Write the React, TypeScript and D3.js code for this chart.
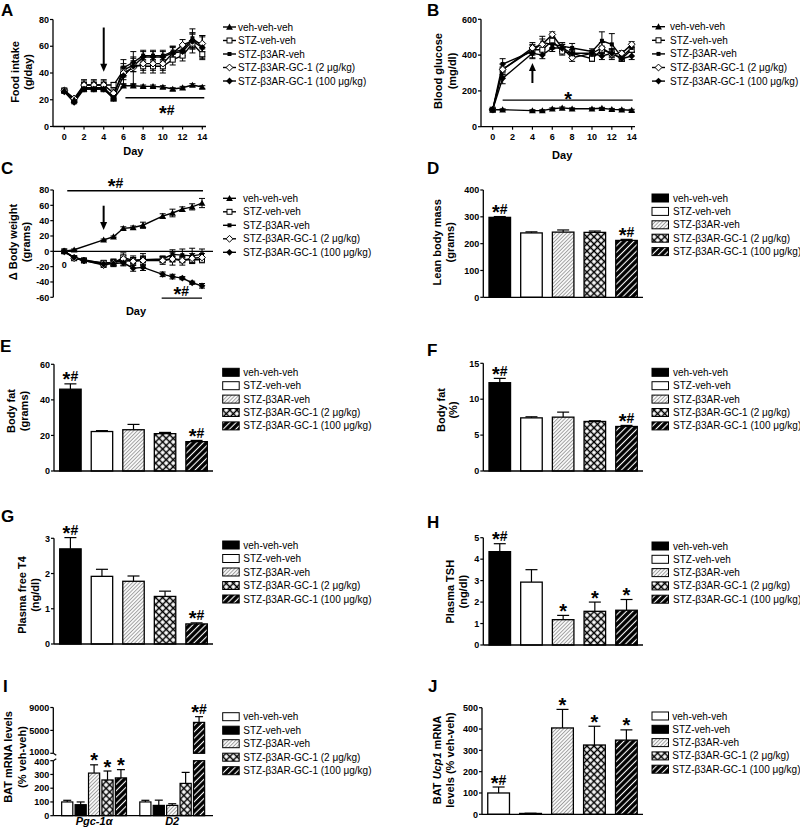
import * as d3 from "d3";
import React from "react";

const FONT = "'Liberation Sans', Arial, Helvetica, sans-serif";

const groupNames = [
  "veh-veh-veh",
  "STZ-veh-veh",
  "STZ-β3AR-veh",
  "STZ-β3AR-GC-1 (2 μg/kg)",
  "STZ-β3AR-GC-1 (100 μg/kg)",
];
const markerKinds = ["tri", "sqOpen", "sqFill", "diaOpen", "diaFill"];

// A - food intake (g/day)
const foodDays = [0, 1, 2, 3, 4, 5, 6, 7, 8, 9, 10, 11, 12, 13, 14];
const foodVeh = [27, 20, 28, 28, 28, 21, 30.5, 30.5, 30, 30, 29.5, 28, 29, 31, 29.5];
const foodStzVeh = [27, 20, 31, 31, 31, 31, 42, 46, 45, 45, 45, 50, 53, 62, 54];
const foodB3 = [26, 20, 29, 29, 29, 22, 44, 48, 53, 53, 53, 56, 57, 66, 60];
const foodGc2 = [27, 21, 31, 31, 31, 25, 40, 44, 47, 47, 47, 55, 61, 64, 62];
const foodGc100 = [26, 18, 28, 28, 28, 21, 38, 45, 52, 52, 52, 55, 56, 64, 59];
const foodVehErr = [1, 1, 1, 1, 1, 1, 1, 1, 1, 1, 1, 1, 1, 1, 1];
const foodStzVehErr = [1, 1, 4, 4, 4, 2, 5, 5, 5, 5, 5, 4, 4, 7, 4];
const foodB3Err = [1, 1, 2, 2, 2, 2, 6, 4, 4, 4, 4, 4, 4, 7, 8];
const foodGc2Err = [1, 1, 3, 3, 3, 3, 5, 12, 5, 5, 5, 5, 4, 6, 6];
const foodGc100Err = [1, 1, 2, 2, 2, 2, 6, 4, 4, 4, 4, 4, 4, 6, 8];

// B - blood glucose (mg/dl)
const glucoseDays = [0, 1, 4, 5, 6, 7, 8, 10, 11, 12, 13, 14];
const glucoseVeh = [95, 95, 90, 90, 100, 105, 100, 100, 103, 97, 95, 92];
const glucoseStzVeh = [95, 320, 430, 430, 480, 420, 410, 380, 430, 410, 380, 430];
const glucoseB3 = [95, 350, 420, 470, 460, 450, 440, 420, 480, 460, 390, 440];
const glucoseGc2 = [95, 320, 440, 460, 515, 440, 385, 410, 440, 405, 410, 460];
const glucoseGc100 = [95, 270, 410, 400, 440, 440, 410, 410, 395, 410, 380, 395];
const glucoseVehErr = [5, 5, 5, 5, 5, 5, 5, 5, 5, 5, 5, 5];
const glucoseStzVehErr = [5, 30, 30, 25, 20, 20, 20, 15, 20, 25, 15, 15];
const glucoseB3Err = [5, 30, 35, 35, 25, 20, 25, 15, 50, 60, 20, 20];
const glucoseGc2Err = [5, 30, 30, 30, 15, 20, 20, 15, 30, 30, 15, 15];
const glucoseGc100Err = [5, 30, 30, 20, 20, 20, 20, 15, 20, 20, 15, 20];

// C - change in body weight (grams)
const weightVehDays = [0, 1, 4, 5, 6, 7, 8, 10, 11, 12, 13, 14];
const weightDays = [0, 1, 2, 4, 5, 6, 7, 8, 10, 11, 12, 13, 14];
const weightVeh = [0, 2, 15, 19, 30, 31, 34, 46, 50, 55, 58, 63];
const weightVehErr = [1, 1, 1, 1, 2, 2, 4, 3, 5, 3, 4, 6];
const weightStzVeh = [0, -9, -12, -15, -15, -8, -12, -11, -11, -10, -11, -11, -11];
const weightB3 = [0, -8, -11, -16, -14, -13, -12, -11, -10, -4, -5, -6, -4];
const weightGc2 = [0, -9, -12, -18, -15, -10, -13, -12, -12, -10, -12, -9, -8];
const weightGc100 = [0, -8, -12, -17, -16, -15, -22, -21, -30, -33, -35, -41, -45];
const weightStzVehErr = [1, 2, 2, 3, 4, 6, 6, 8, 4, 4, 4, 4, 4];
const weightB3Err = [1, 2, 2, 3, 4, 5, 4, 4, 4, 6, 8, 10, 7];
const weightGc2Err = [1, 2, 2, 3, 4, 5, 5, 6, 5, 8, 6, 6, 5];
const weightGc100Err = [1, 2, 2, 3, 4, 4, 4, 4, 3, 3, 2, 2, 3];

// D-H, J bar values (group order as groupNames)
const leanMass = [298, 240, 243, 242, 212];
const leanMassErr = [3, 4, 8, 5, 4];
const leanMassSig = ["*#", "", "", "", "*#"];
const fatGrams = [46, 22.2, 23.2, 21, 16.5];
const fatGramsErr = [3, 0.5, 3, 0.7, 0.7];
const fatGramsSig = ["*#", "", "", "", "*#"];
const fatPct = [12.3, 7.4, 7.5, 6.9, 6.2];
const fatPctErr = [0.6, 0.15, 0.7, 0.1, 0.15];
const fatPctSig = ["*#", "", "", "", "*#"];
const freeT4 = [2.7, 1.92, 1.78, 1.35, 0.57];
const freeT4Err = [0.32, 0.2, 0.15, 0.15, 0.03];
const freeT4Sig = ["*#", "", "", "", "*#"];
const tsh = [4.35, 2.93, 1.18, 1.57, 1.62];
const tshErr = [0.37, 0.58, 0.2, 0.43, 0.5];
const tshSig = ["*#", "", "*", "*", "*"];
const ucp1 = [100, 4, 405, 325, 348];
const ucp1Err = [28, 1, 87, 88, 48];
const ucp1Sig = ["*#", "", "*", "*", "*"];

// I - BAT mRNA
const genes = ["Pgc-1α", "D2"];
const pgc1a = [100, 80, 310, 260, 275];
const pgc1aErr = [12, 20, 60, 65, 60];
const pgc1aSig = ["", "", "*", "*", "*"];
const dio2 = [100, 75, 75, 235, 6400];
const dio2Err = [12, 38, 12, 80, 1000];
const dio2Sig = ["", "", "", "", "*#"];

const fillsA = ["#000", "#fff", "url(#light)", "url(#cross)", "url(#dark)"];
const fillsB = ["#fff", "#000", "url(#light)", "url(#cross)", "url(#dark)"];

// big star + hash, like the original figure
function Sig({ x, y, text }: any) {
  if (!text) return null;
  const hasHash = text.includes("#");
  return (
    <text x={x} y={y} textAnchor="middle" fontSize={14} fontWeight="bold">
      <tspan fontSize={20} dy={5}>*</tspan>
      {hasHash && <tspan dy={-5}>#</tspan>}
    </text>
  );
}

function Marker({ kind, cx, cy }: any) {
  const s = 3.4;
  if (kind === "tri")
    return <path d={`M${cx},${cy - s}L${cx + s},${cy + s * 0.8}L${cx - s},${cy + s * 0.8}Z`} fill="#000" />;
  if (kind === "sqOpen")
    return <rect x={cx - 2.5} y={cy - 2.5} width={5} height={5} fill="#fff" stroke="#000" strokeWidth={1} />;
  if (kind === "sqFill") return <rect x={cx - 2} y={cy - 2} width={4} height={4} fill="#000" />;
  const d = `M${cx},${cy - s}L${cx + s},${cy}L${cx},${cy + s}L${cx - s},${cy}Z`;
  if (kind === "diaOpen") return <path d={d} fill="#fff" stroke="#000" strokeWidth={1} />;
  return <path d={d} fill="#000" />;
}

function LineMarks({ x, y, series }: any) {
  const line = d3
    .line<[number, number]>()
    .x((d) => x(d[0]))
    .y((d) => y(d[1]));
  return (
    <g>
      {series.map((s: any, i: number) => (
        <path
          key={"l" + i}
          d={line(s.days.map((d: number, j: number) => [d, s.values[j]]))!}
          fill="none"
          stroke="#000"
          strokeWidth={1.4}
        />
      ))}
      {series.map((s: any, i: number) =>
        s.days.map((d: number, j: number) => {
          const cx = x(d);
          const lo = y(s.values[j] - s.errs[j]);
          const hi = y(s.values[j] + s.errs[j]);
          return (
            <g key={`e${i}-${j}`} stroke="#000" strokeWidth={1}>
              <line x1={cx} x2={cx} y1={lo} y2={hi} />
              <line x1={cx - 3} x2={cx + 3} y1={hi} y2={hi} />
              <line x1={cx - 3} x2={cx + 3} y1={lo} y2={lo} />
            </g>
          );
        })
      )}
      {series.map((s: any, i: number) =>
        s.days.map((d: number, j: number) => (
          <Marker key={`m${i}-${j}`} kind={s.kind} cx={x(d)} cy={y(s.values[j])} />
        ))
      )}
    </g>
  );
}

function YAxis({ y, ticks, x, labelShift }: any) {
  const [lo, hi] = d3.extent(ticks as number[]) as [number, number];
  return (
    <g>
      <line x1={x} x2={x} y1={y(lo)} y2={y(hi)} stroke="#000" strokeWidth={1.3} />
      {ticks.map((t: number) => (
        <g key={t}>
          <line x1={x - 3} x2={x} y1={y(t)} y2={y(t)} stroke="#000" strokeWidth={1.2} />
          <text
            x={x - 4}
            y={y(t) + 3.2 + ((labelShift && labelShift[t]) || 0)}
            textAnchor="end"
            fontSize={9}
            fontWeight="bold"
          >
            {t}
          </text>
        </g>
      ))}
    </g>
  );
}

function DayAxis({ x, ticks, axisX, xEnd, baseY, labelY, titleY }: any) {
  return (
    <g>
      <line x1={axisX} x2={xEnd} y1={baseY} y2={baseY} stroke="#000" strokeWidth={1.3} />
      {ticks.map((t: number) => (
        <g key={t}>
          <line x1={x(t)} x2={x(t)} y1={baseY} y2={baseY + 3} stroke="#000" strokeWidth={1.2} />
          <text x={x(t)} y={labelY} textAnchor="middle" fontSize={9} fontWeight="bold">
            {t}
          </text>
        </g>
      ))}
      <text x={(x(ticks[0]) + x(ticks[ticks.length - 1])) / 2} y={titleY} textAnchor="middle" fontSize={11} fontWeight="bold">
        Day
      </text>
    </g>
  );
}

function YTitle({ cx, cy, lines }: any) {
  return (
    <g>
      {lines.map((l: any, i: number) => (
        <text
          key={i}
          transform={`translate(${cx[i]},${cy}) rotate(-90)`}
          textAnchor="middle"
          fontSize={11}
          fontWeight="bold"
          dy="0.35em"
        >
          {l}
        </text>
      ))}
    </g>
  );
}

function LineLegend({ x, textX, y0, step }: any) {
  return (
    <g>
      {groupNames.map((n, i) => {
        const cy = y0 + i * step;
        return (
          <g key={n}>
            <line x1={x} x2={x + 13} y1={cy} y2={cy} stroke="#000" strokeWidth={1.4} />
            <Marker kind={markerKinds[i]} cx={x + 6.5} cy={cy} />
            <text x={textX} y={cy + 3.5} fontSize={10}>
              {n}
            </text>
          </g>
        );
      })}
    </g>
  );
}

function BoxLegend({ x, textX, y0, step, fills }: any) {
  return (
    <g>
      {groupNames.map((n, i) => {
        const cy = y0 + i * step;
        return (
          <g key={n}>
            <rect x={x} y={cy - 4} width={16.5} height={8} fill={fills[i]} stroke="#000" strokeWidth={1} />
            <text x={textX} y={cy + 3.5} fontSize={10}>
              {n}
            </text>
          </g>
        );
      })}
    </g>
  );
}

function BarPanel({ values, errs, sig, fills, y, ticks, axisX, xEnd }: any) {
  const band = d3
    .scaleBand<number>()
    .domain(values.map((_: number, i: number) => i))
    .range([axisX, xEnd])
    .paddingInner(0.32)
    .paddingOuter(0.18);
  const y0 = y(0);
  return (
    <g>
      {values.map((v: number, i: number) => {
        const bx = band(i)!;
        const w = band.bandwidth();
        const cx = bx + w / 2;
        const top = y(v + errs[i]);
        return (
          <g key={i}>
            <line x1={cx} x2={cx} y1={y(v)} y2={top} stroke="#000" strokeWidth={1.2} />
            <line x1={cx - 6} x2={cx + 6} y1={top} y2={top} stroke="#000" strokeWidth={1.2} />
            <rect x={bx} y={y(v)} width={w} height={y0 - y(v)} fill={fills[i]} stroke="#000" strokeWidth={1.3} />
            <Sig x={cx} y={top - 2.5} text={sig[i]} />
          </g>
        );
      })}
      <line x1={axisX} x2={xEnd} y1={y0} y2={y0} stroke="#000" strokeWidth={1.3} />
      <YAxis y={y} ticks={ticks} x={axisX} />
    </g>
  );
}

function Arrow({ x, y1, y2 }: any) {
  const dir = y2 > y1 ? 1 : -1;
  return (
    <g>
      <line x1={x} x2={x} y1={y1} y2={y2 - dir * 6} stroke="#000" strokeWidth={2} />
      <path d={`M${x - 3.5},${y2 - dir * 8}L${x + 3.5},${y2 - dir * 8}L${x},${y2}Z`} fill="#000" />
    </g>
  );
}

function PanelI() {
  const axisX = 53.3;
  const xEnd = 213;
  const yLow = d3.scaleLinear().domain([0, 400]).range([815.7, 760.7]);
  const yHigh = d3.scaleLinear().domain([1000, 9000]).range([753.3, 707.5]);
  const outer = d3.scaleBand<string>().domain(genes).range([axisX, xEnd]).paddingInner(0.17).paddingOuter(0.107);
  const inner = d3
    .scaleBand<number>()
    .domain([0, 1, 2, 3, 4])
    .range([0, outer.bandwidth()])
    .paddingInner(0.17)
    .paddingOuter(0);
  const sets = [
    { vals: pgc1a, errs: pgc1aErr, sig: pgc1aSig },
    { vals: dio2, errs: dio2Err, sig: dio2Sig },
  ];
  const yv = (v: number) => (v <= 400 ? yLow(v) : yHigh(v));
  return (
    <g>
      {sets.map((s, g) =>
        s.vals.map((v, i) => {
          const bx = outer(genes[g])! + inner(i)!;
          const w = inner.bandwidth();
          const cx = bx + w / 2;
          const top = yv(v + s.errs[i]);
          const big = v > 400;
          return (
            <g key={`${g}-${i}`}>
              <line x1={cx} x2={cx} y1={yv(v)} y2={top} stroke="#000" strokeWidth={1.2} />
              <line x1={cx - 4} x2={cx + 4} y1={top} y2={top} stroke="#000" strokeWidth={1.2} />
              {big ? (
                <g>
                  <rect x={bx} y={yLow(400)} width={w} height={yLow(0) - yLow(400)} fill={fillsB[i]} stroke="#000" strokeWidth={1.2} />
                  <rect x={bx} y={yHigh(v)} width={w} height={yHigh(1000) - yHigh(v)} fill={fillsB[i]} stroke="#000" strokeWidth={1.2} />
                </g>
              ) : (
                <rect x={bx} y={yLow(v)} width={w} height={yLow(0) - yLow(v)} fill={fillsB[i]} stroke="#000" strokeWidth={1.2} />
              )}
              <Sig x={cx} y={top - 2.5} text={s.sig[i]} />
            </g>
          );
        })
      )}
      <line x1={axisX} x2={xEnd} y1={yLow(0)} y2={yLow(0)} stroke="#000" strokeWidth={1.3} />
      <YAxis y={yLow} ticks={[0, 100, 200, 300, 400]} x={axisX} labelShift={{ 400: 1 }} />
      <YAxis y={yHigh} ticks={[1000, 5000, 9000]} x={axisX} labelShift={{ 1000: -1.5 }} />
      <path d={`M${axisX},${yHigh(1000)}l3,2`} stroke="#000" strokeWidth={1.2} fill="none" />
      <path d={`M${axisX},${yLow(400)}l3,-2`} stroke="#000" strokeWidth={1.2} fill="none" />
      {genes.map((gName) => (
        <text
          key={gName}
          x={outer(gName)! + outer.bandwidth() / 2}
          y={825}
          textAnchor="middle"
          fontSize={11}
          fontWeight="bold"
          fontStyle="italic"
        >
          {gName}
        </text>
      ))}
    </g>
  );
}

export default function App() {
  // A
  const xA = d3.scaleLinear().domain([0, 14]).range([64.3, 202.3]);
  const yA = d3.scaleLinear().domain([0, 80]).range([126.5, 19.5]);
  const seriesA = [
    { days: foodDays, values: foodStzVeh, errs: foodStzVehErr, kind: "sqOpen" },
    { days: foodDays, values: foodB3, errs: foodB3Err, kind: "sqFill" },
    { days: foodDays, values: foodGc2, errs: foodGc2Err, kind: "diaOpen" },
    { days: foodDays, values: foodGc100, errs: foodGc100Err, kind: "diaFill" },
    { days: foodDays, values: foodVeh, errs: foodVehErr, kind: "tri" },
  ];
  // B
  const xB = d3.scaleLinear().domain([0, 14]).range([492.7, 631.7]);
  const yB = d3.scaleLinear().domain([0, 600]).range([126.7, 19.3]);
  const seriesB = [
    { days: glucoseDays, values: glucoseStzVeh, errs: glucoseStzVehErr, kind: "sqOpen" },
    { days: glucoseDays, values: glucoseB3, errs: glucoseB3Err, kind: "sqFill" },
    { days: glucoseDays, values: glucoseGc2, errs: glucoseGc2Err, kind: "diaOpen" },
    { days: glucoseDays, values: glucoseGc100, errs: glucoseGc100Err, kind: "diaFill" },
    { days: glucoseDays, values: glucoseVeh, errs: glucoseVehErr, kind: "tri" },
  ];
  // C
  const xC = d3.scaleLinear().domain([0, 14]).range([64.3, 202]);
  const yC = d3.scaleLinear().domain([-60, 80]).range([297.3, 190]);
  const seriesC = [
    { days: weightDays, values: weightStzVeh, errs: weightStzVehErr, kind: "sqOpen" },
    { days: weightDays, values: weightB3, errs: weightB3Err, kind: "sqFill" },
    { days: weightDays, values: weightGc2, errs: weightGc2Err, kind: "diaOpen" },
    { days: weightDays, values: weightGc100, errs: weightGc100Err, kind: "diaFill" },
    { days: weightVehDays, values: weightVeh, errs: weightVehErr, kind: "tri" },
  ];

  const yD = d3.scaleLinear().domain([0, 400]).range([297.3, 190]);
  const yE = d3.scaleLinear().domain([0, 60]).range([471, 364.3]);
  const yF = d3.scaleLinear().domain([0, 15]).range([471, 363.3]);
  const yG = d3.scaleLinear().domain([0, 3]).range([644, 538.3]);
  const yH = d3.scaleLinear().domain([0, 5]).range([645, 537.7]);
  const yJ = d3.scaleLinear().domain([0, 500]).range([814.3, 707.7]);

  const letters = [
    ["A", 1, 15.5],
    ["B", 427, 15.5],
    ["C", 1, 173.5],
    ["D", 427, 174],
    ["E", 0, 352],
    ["F", 427, 355.5],
    ["G", 1, 522],
    ["H", 427, 528],
    ["I", 3, 691.5],
    ["J", 428, 691.5],
  ];

  return (
    <svg
      width={800}
      height={831}
      style={{ position: "absolute", left: 0, top: 0, background: "#fff" }}
      fontFamily={FONT}
    >
      <defs>
        <pattern id="light" patternUnits="userSpaceOnUse" width={2.6} height={2.6} patternTransform="rotate(45)">
          <rect width={2.6} height={2.6} fill="#fff" />
          <line x1={1.3} y1={0} x2={1.3} y2={2.6} stroke="#9c9c9c" strokeWidth={1} />
        </pattern>
        <pattern id="cross" patternUnits="userSpaceOnUse" width={5} height={5} patternTransform="rotate(45)">
          <rect width={5} height={5} fill="#fff" />
          <line x1={2.5} y1={0} x2={2.5} y2={5} stroke="#000" strokeWidth={1.5} />
          <line x1={0} y1={2.5} x2={5} y2={2.5} stroke="#000" strokeWidth={1.5} />
        </pattern>
        <pattern id="dark" patternUnits="userSpaceOnUse" width={4.5} height={4.5} patternTransform="rotate(45)">
          <rect width={4.5} height={4.5} fill="#000" />
          <line x1={2.25} y1={0} x2={2.25} y2={4.5} stroke="#fff" strokeWidth={1.1} />
        </pattern>
      </defs>

      {letters.map(([t, x, y]) => (
        <text key={t as string} x={x as number} y={y as number} fontSize={17} fontWeight="bold">
          {t}
        </text>
      ))}

      {/* A */}
      <LineMarks x={xA} y={yA} series={seriesA} />
      <YAxis y={yA} ticks={[0, 20, 40, 60, 80]} x={53} />
      <DayAxis x={xA} ticks={[0, 2, 4, 6, 8, 10, 12, 14]} axisX={53} xEnd={206} baseY={yA(0)} labelY={140} titleY={155} />
      <YTitle cx={[15, 28.5]} cy={72} lines={["Food intake", "(g/day)"]} />
      <Arrow x={xA(4)} y1={yA(74)} y2={yA(41)} />
      <line x1={xA(6.2)} x2={xA(14.2)} y1={yA(21.5)} y2={yA(21.5)} stroke="#000" strokeWidth={1.3} />
      <Sig x={xA(10.4)} y={yA(21.5) + 17} text="*#" />
      <LineLegend x={223} textX={238} y0={27} step={13.5} />

      {/* B */}
      <LineMarks x={xB} y={yB} series={seriesB} />
      <YAxis y={yB} ticks={[0, 200, 400, 600]} x={481} />
      <DayAxis x={xB} ticks={[0, 2, 4, 6, 8, 10, 12, 14]} axisX={481} xEnd={635} baseY={yB(0)} labelY={140} titleY={158.5} />
      <YTitle cx={[438.3, 451.7]} cy={71} lines={["Blood glucose", "(mg/dl)"]} />
      <Arrow x={xB(4)} y1={yB(244)} y2={yB(356)} />
      <line x1={xB(1)} x2={xB(14.1)} y1={yB(149)} y2={yB(149)} stroke="#000" strokeWidth={1.3} />
      <Sig x={xB(7.6)} y={yB(149) + 1} text="*" />
      <LineLegend x={652} textX={670} y0={26.7} step={13.6} />

      {/* C */}
      <line x1={53.3} x2={213} y1={yC(0)} y2={yC(0)} stroke="#000" strokeWidth={1.3} />
      <LineMarks x={xC} y={yC} series={seriesC} />
      <YAxis y={yC} ticks={[-60, -40, -20, 0, 20, 40, 60, 80]} x={53.3} />
      <text x={xC(0)} y={267.5} textAnchor="middle" fontSize={9} fontWeight="bold">0</text>
      <text x={136} y={315} textAnchor="middle" fontSize={11} fontWeight="bold">Day</text>
      <YTitle cx={[12.7, 26]} cy={242} lines={["Δ Body weight", "(grams)"]} />
      <Arrow x={xC(4)} y1={yC(59.5)} y2={yC(27.8)} />
      <line x1={xC(0.3)} x2={xC(14.1)} y1={yC(79)} y2={yC(79)} stroke="#000" strokeWidth={1.3} />
      <Sig x={xC(5.2)} y={yC(79) - 2.5} text="*#" />
      <line x1={xC(9.9)} x2={xC(14)} y1={yC(-61)} y2={yC(-61)} stroke="#000" strokeWidth={1.3} />
      <Sig x={xC(11.9)} y={yC(-61) - 2} text="*#" />
      <LineLegend x={223} textX={243} y0={198.3} step={13.5} />

      {/* D */}
      <BarPanel values={leanMass} errs={leanMassErr} sig={leanMassSig} fills={fillsA} y={yD} ticks={[0, 100, 200, 300, 400]} axisX={483.3} xEnd={643} />
      <YTitle cx={[436.7, 450]} cy={242.3} lines={["Lean body mass", "(grams)"]} />
      <BoxLegend x={652} textX={673} y0={198} step={13.4} fills={fillsA} />

      {/* E */}
      <BarPanel values={fatGrams} errs={fatGramsErr} sig={fatGramsSig} fills={fillsA} y={yE} ticks={[0, 20, 40, 60]} axisX={54} xEnd={213} />
      <YTitle cx={[10.7, 24]} cy={411} lines={["Body fat", "(grams)"]} />
      <BoxLegend x={222.7} textX={243.3} y0={372.3} step={13.4} fills={fillsA} />

      {/* F */}
      <BarPanel values={fatPct} errs={fatPctErr} sig={fatPctSig} fills={fillsA} y={yF} ticks={[0, 5, 10, 15]} axisX={483.3} xEnd={643} />
      <YTitle cx={[440.7, 453.3]} cy={410} lines={["Body fat", "(%)"]} />
      <BoxLegend x={652} textX={673} y0={372.3} step={13.4} fills={fillsA} />

      {/* G */}
      <BarPanel values={freeT4} errs={freeT4Err} sig={freeT4Sig} fills={fillsA} y={yG} ticks={[0, 1, 2, 3]} axisX={54} xEnd={213} />
      <YTitle cx={[21.7, 35.3]} cy={595} lines={["Plasma free T4", "(ng/dl)"]} />
      <BoxLegend x={222.7} textX={243.3} y0={545} step={13.5} fills={fillsA} />

      {/* H */}
      <BarPanel values={tsh} errs={tshErr} sig={tshSig} fills={fillsA} y={yH} ticks={[0, 1, 2, 3, 4, 5]} axisX={483.3} xEnd={643} />
      <YTitle cx={[450, 463.3]} cy={591.7} lines={["Plasma TSH", "(ng/dl)"]} />
      <BoxLegend x={652} textX={673} y0={546} step={13.3} fills={fillsA} />

      {/* I */}
      <PanelI />
      <YTitle cx={[8.5, 21.7]} cy={757} lines={["BAT mRNA levels", "(% veh-veh)"]} />
      <BoxLegend x={222.7} textX={243.3} y0={716.7} step={13.5} fills={fillsB} />

      {/* J */}
      <BarPanel values={ucp1} errs={ucp1Err} sig={ucp1Sig} fills={fillsB} y={yJ} ticks={[0, 100, 200, 300, 400, 500]} axisX={482} xEnd={643} />
      <YTitle
        cx={[437.3, 450]}
        cy={760}
        lines={[
          <>
            BAT <tspan fontStyle="italic">Ucp1</tspan> mRNA
          </>,
          "levels (% veh-veh)",
        ]}
      />
      <BoxLegend x={652} textX={672.3} y0={716} step={13.3} fills={fillsB} />
    </svg>
  );
}
